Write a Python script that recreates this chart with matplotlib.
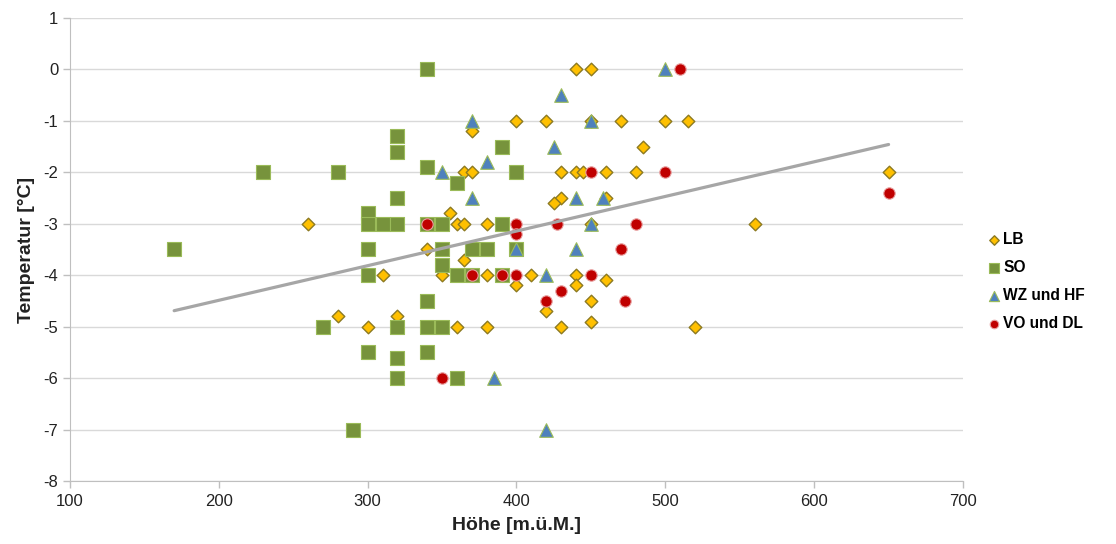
import matplotlib.pyplot as plt

plt.rcParams['font.family'] = ['Liberation Sans', 'DejaVu Sans']
plt.rcParams['axes.unicode_minus'] = False

# LB stations: altitude [m] and temperature [°C]
lb_hoehe = [440, 450, 400, 420, 450, 470, 500, 515, 370, 485,
            365, 370, 430, 440, 445, 460, 480, 650,
            430, 425, 460, 355, 260, 360, 365, 380, 560, 450,
            340, 365, 310, 350, 380, 410, 440, 460, 400, 440,
            450, 420, 280, 320, 450, 300, 360, 380, 430, 520]
lb_temp = [0, 0, -1, -1, -1, -1, -1, -1, -1.2, -1.5,
           -2, -2, -2, -2, -2, -2, -2, -2,
           -2.5, -2.6, -2.5, -2.8, -3, -3, -3, -3, -3, -3,
           -3.5, -3.7, -4, -4, -4, -4, -4, -4.1, -4.2, -4.2,
           -4.5, -4.7, -4.8, -4.8, -4.9, -5, -5, -5, -5, -5]

# SO stations
so_hoehe = [170, 230, 280, 270, 290,
            300, 300, 310, 320, 300, 300, 300,
            320, 320, 320, 320, 320, 320,
            340, 340, 340, 340, 340, 340,
            350, 350, 350, 350, 360, 360, 360,
            370, 370, 380, 390, 390, 390, 400, 400]
so_temp = [-3.5, -2, -2, -5, -7,
           -2.8, -3, -3, -3, -3.5, -4, -5.5,
           -1.3, -1.6, -2.5, -5, -5.6, -6,
           0, -1.9, -3, -4.5, -5, -5.5,
           -3, -3.5, -3.8, -5, -2.2, -4, -6,
           -3.5, -4, -3.5, -1.5, -3, -4, -2, -3.5]

# WZ und HF stations
wz_hoehe = [370, 430, 500, 450, 425, 380, 350, 370, 440, 458,
            450, 400, 440, 420, 385, 420]
wz_temp = [-1, -0.5, 0, -1, -1.5, -1.8, -2, -2.5, -2.5, -2.5,
           -3, -3.5, -3.5, -4, -6, -7]

# VO und DL stations
vo_hoehe = [510, 450, 500, 650, 340, 400, 400, 427, 480, 470,
            370, 390, 400, 450, 430, 420, 473, 350]
vo_temp = [0, -2, -2, -2.4, -3, -3, -3.2, -3, -3, -3.5,
           -4, -4, -4, -4, -4.3, -4.5, -4.5, -6]

# linear trend over all stations
trend_x = [170, 650]
trend_slope = 0.00673
trend_intercept = -5.834

fig = plt.figure(figsize=(11.16, 5.44), dpi=100)
ax = fig.add_axes([0.0627, 0.1158, 0.8002, 0.8512])

ax.scatter(lb_hoehe, lb_temp, marker='D', s=6.4 ** 2, color='#FFC000',
           edgecolors='#8C7A22', linewidths=1.0, label='LB', zorder=3)
ax.scatter(so_hoehe, so_temp, marker='s', s=10.5 ** 2, color='#77933C',
           edgecolors='#9BBB59', linewidths=0.8, label='SO', zorder=4)
ax.scatter(wz_hoehe, wz_temp, marker='^', s=9.8 ** 2, color='#4F81BD',
           edgecolors='#9BBB59', linewidths=0.8, label='WZ und HF', zorder=5)
ax.scatter(vo_hoehe, vo_temp, marker='o', s=8.2 ** 2, color='#C00000',
           edgecolors='#E8A0A0', linewidths=0.8, label='VO und DL', zorder=6)

ty = [trend_intercept + trend_slope * x for x in trend_x]
ax.plot(trend_x, ty, color='#A6A6A6', linewidth=2.3, zorder=7,
        solid_capstyle='round')

ax.set_xlim(100, 700)
ax.set_ylim(-8, 1)
ax.set_xticks(range(100, 701, 100))
ax.set_yticks(range(-8, 2))
ax.grid(axis='y', color='#D9D9D9', linewidth=1.0, zorder=0)
ax.set_axisbelow(True)

for side in ['top', 'right']:
    ax.spines[side].set_visible(False)
for side in ['left', 'bottom']:
    ax.spines[side].set_color('#BFBFBF')
ax.tick_params(axis='both', colors='#BFBFBF', labelcolor='#222222',
               labelsize=12, length=5, width=1)
ax.tick_params(axis='x', pad=4)

ax.set_xlabel('Höhe [m.ü.M.]', fontsize=14, fontweight='bold',
              color='#222222', labelpad=6)
ax.set_ylabel('Temperatur [°C]', fontsize=14, fontweight='bold',
              color='#222222', labelpad=6)

ax.legend(loc='center left', bbox_to_anchor=(1.01, 0.431), frameon=False,
          prop={'weight': 'bold', 'size': 11.2}, handletextpad=0.1,
          handlelength=1.0, labelspacing=0.85, markerscale=0.75)

fig.savefig('out.png', dpi=100)
